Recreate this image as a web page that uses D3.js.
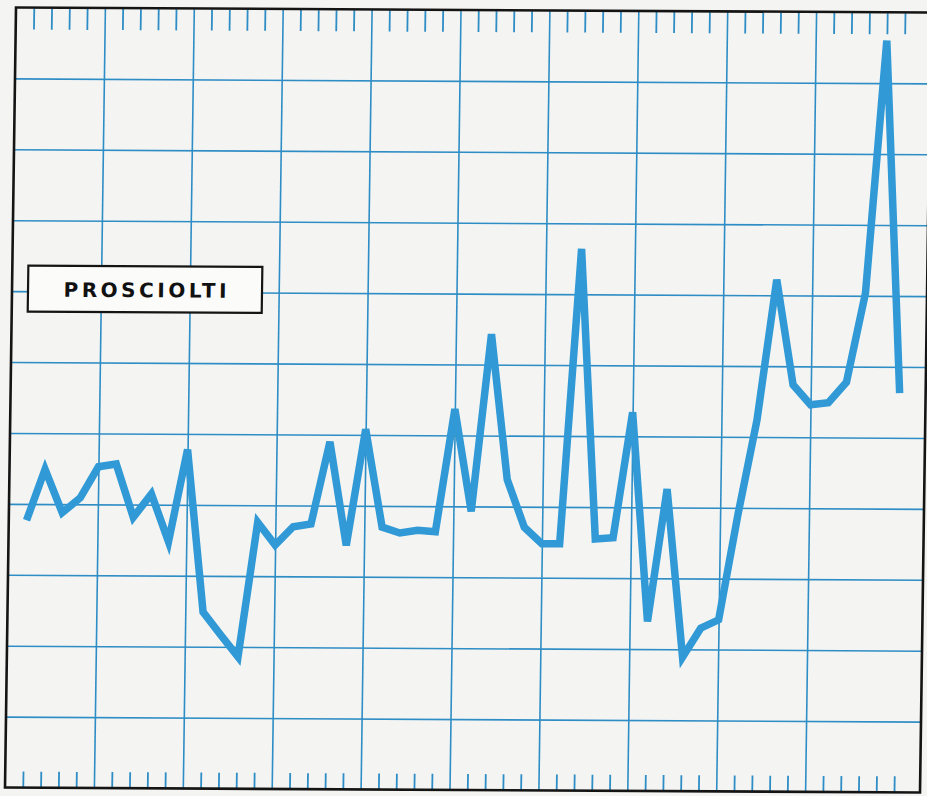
<!DOCTYPE html>
<html>
<head>
<meta charset="utf-8">
<script src="https://cdn.jsdelivr.net/npm/d3@7"></script>
<style>
  html, body { margin: 0; padding: 0; background: #f4f5f3; }
  svg { display: block; }
</style>
</head>
<body>
<script>
// ---- data (grid rows = 10 units, bottom edge = 0) ----
const periods = [1,2,3,4,5,6,7,8,9,10,11,12,13,14,15,16,17,18,19,20,21,22,23,24,25,
                 26,27,28,29,30,31,32,33,34,35,36,37,38,39,40,41,42,43,44,45,46,47,48,49,50];
const prosciolti = [37.7,44.9,38.8,40.9,45.3,45.7,38.2,41.5,34.8,47.8,
                    24.9,21.7,18.6,37.6,34.4,37.0,37.4,49.0,34.4,50.8,
                    37.0,36.2,36.6,36.4,53.7,39.3,64.3,43.8,37.1,34.8,
                    34.8,76.4,35.5,35.7,53.4,23.9,42.6,18.9,23.0,24.2,
                    39.0,52.4,72.2,57.4,54.6,54.9,57.8,70.4,106.0,56.3];
const seriesLabel = "PROSCIOLTI";
const majorX = [5,10,15,20,25,30,35,40,45];
const minorX = [1,2,3,4,6,7,8,9,11,12,13,14,16,17,18,19,21,22,23,24,26,27,28,29,31,32,33,34,
                36,37,38,39,41,42,43,44,46,47,48,49,50];
const gridY = [10,20,30,40,50,60,70,80,90,100];

// ---- layout ----
const width = 927, height = 796;
const W = 915, H = 780;          // frame size (before the slight print skew)
const blueGrid = "#2f8dc5";
const blueLine = "#3199d6";

const svg = d3.select("body").append("svg")
  .attr("width", width).attr("height", height);

svg.append("rect").attr("width", width).attr("height", height).attr("fill", "#f4f5f3");

// the printed sheet is slightly rotated/skewed
const g = svg.append("g")
  .attr("transform", "matrix(1,0.00546,-0.0141,1,16,7.5)");

const x = d3.scaleLinear().domain([0, 50]).range([0, 889]);
const y = d3.scaleLinear().domain([0, 110]).range([H, 0]);

// horizontal grid lines
const yAxis = d3.axisLeft(y).tickValues(gridY).tickSize(-W).tickFormat("");
const gy = g.append("g").call(yAxis);
gy.select(".domain").remove();
gy.selectAll("line").attr("stroke", blueGrid).attr("stroke-width", 1.6);

// vertical grid lines
const xGrid = d3.axisBottom(x).tickValues(majorX).tickSize(-H).tickFormat("");
const gx = g.append("g").attr("transform", `translate(0,${H})`).call(xGrid);
gx.select(".domain").remove();
gx.selectAll("line").attr("stroke", blueGrid).attr("stroke-width", 1.6);

// top minor ticks
const topTicks = d3.axisTop(x).tickValues(minorX).tickSize(-21).tickFormat("");
const gt = g.append("g").attr("transform", "translate(0,1)").call(topTicks);
gt.select(".domain").remove();
gt.selectAll("line").attr("stroke", blueGrid).attr("stroke-width", 1.8);

// bottom minor ticks
const botTicks = d3.axisBottom(x).tickValues(minorX).tickSize(-16).tickFormat("");
const gb = g.append("g").attr("transform", `translate(0,${H})`).call(botTicks);
gb.select(".domain").remove();
gb.selectAll("line").attr("stroke", blueGrid).attr("stroke-width", 1.8);

// frame
g.append("rect").attr("x", 0).attr("y", 0).attr("width", W).attr("height", H)
  .attr("fill", "none").attr("stroke", "#141414").attr("stroke-width", 2.6);

// data line
const line = d3.line()
  .x((d, i) => x(periods[i]))
  .y(d => y(d));
g.append("path")
  .datum(prosciolti)
  .attr("d", line)
  .attr("fill", "none")
  .attr("stroke", blueLine)
  .attr("stroke-width", 7.5)
  .attr("stroke-linejoin", "miter")
  .attr("stroke-miterlimit", 4)
  .attr("stroke-linecap", "butt");

// label box
const lb = g.append("g").attr("transform", "translate(16,258)");
lb.append("rect").attr("width", 234).attr("height", 46)
  .attr("fill", "#fbfbfa").attr("stroke", "#141414").attr("stroke-width", 2.2);
lb.append("text")
  .attr("x", 117).attr("y", 31)
  .attr("text-anchor", "middle")
  .attr("font-family", "'DejaVu Sans', 'Noto Sans', sans-serif")
  .attr("font-weight", "bold")
  .attr("font-size", 20)
  .attr("fill", "#111")
  .attr("textLength", 163)
  .attr("lengthAdjust", "spacing")
  .text(seriesLabel);
</script>
</body>
</html>
